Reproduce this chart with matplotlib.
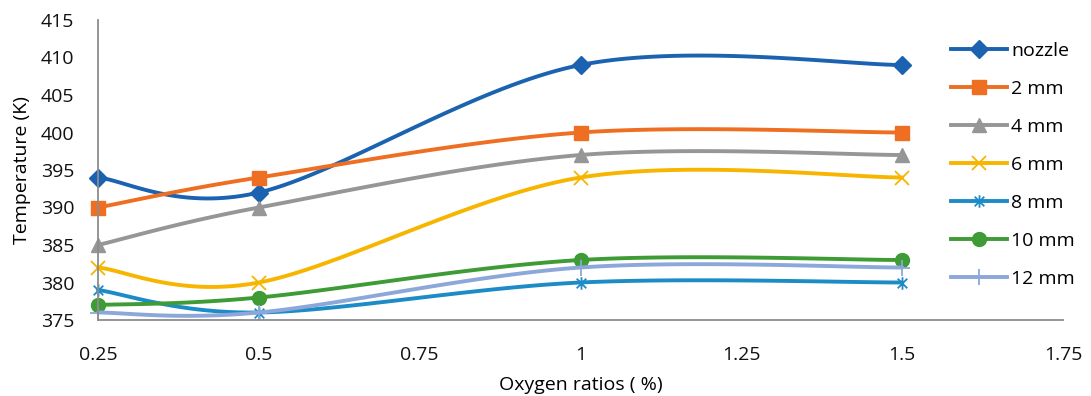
import numpy as np
import matplotlib.pyplot as plt
from matplotlib.path import Path

plt.rcParams['font.family'] = ['Open Sans', 'DejaVu Sans']

# Oxygen ratio (%) and temperature (K) per measuring position
oxygen = [0.25, 0.5, 1.0, 1.5]
series_names = ['nozzle', '2 mm', '4 mm', '6 mm', '8 mm', '10 mm', '12 mm']
t_nozzle = [394, 392, 409, 409]
t_2mm = [390, 394, 400, 400]
t_4mm = [385, 390, 397, 397]
t_6mm = [382, 380, 394, 394]
t_8mm = [379, 376, 380, 380]
t_10mm = [377, 378, 383, 383]
t_12mm = [376, 376, 382, 382]
x_ticks = [0.25, 0.5, 0.75, 1.0, 1.25, 1.5, 1.75]
x_ticklabels = ['0.25', '0.5', '0.75', '1', '1.25', '1.5', '1.75']
y_ticks = [375, 380, 385, 390, 395, 400, 405, 410, 415]

XMIN, XMAX, YMIN, YMAX = 0.25, 1.75, 375, 415
FS = 14

# asterisk marker: an x with a vertical stroke through it
star = Path([(-1, -1), (1, 1), (-1, 1), (1, -1), (0, -1.3), (0, 1.3)],
            [Path.MOVETO, Path.LINETO, Path.MOVETO, Path.LINETO, Path.MOVETO, Path.LINETO])

styles = [
    dict(color='#1B63B1', marker='D', ms=9),
    dict(color='#EE6E22', marker='s', ms=10),
    dict(color='#969696', marker='^', ms=10),
    dict(color='#F7B500', marker='x', ms=10, mew=1.3),
    dict(color='#1D8BC6', marker=star, ms=9, mew=1.3),
    dict(color='#3E9B35', marker='o', ms=10),
    dict(color='#8CA7DA', marker='+', ms=11, mew=1.3),
]


def smooth(xs, ys, sx, sy, n=40):
    """Bezier smoothing like office charts, done in screen-ish units."""
    p = np.column_stack([(np.array(xs) - XMIN) * sx, (np.array(ys) - YMIN) * sy])
    out = []
    for i in range(len(p) - 1):
        p0 = p[max(i - 1, 0)]
        p1, p2 = p[i], p[i + 1]
        p3 = p[min(i + 2, len(p) - 1)]
        c1 = p1 + (p2 - p0) / 6
        c2 = p2 - (p3 - p1) / 6
        t = np.linspace(0, 1, n)[:, None]
        seg = ((1 - t) ** 3) * p1 + 3 * ((1 - t) ** 2) * t * c1 + 3 * (1 - t) * t ** 2 * c2 + t ** 3 * p2
        out.append(seg if i == 0 else seg[1:])
    pts = np.vstack(out)
    return pts[:, 0] / sx + XMIN, pts[:, 1] / sy + YMIN


fig = plt.figure(figsize=(10.91, 3.96), dpi=100)
ax = fig.add_axes([98 / 1091, 76 / 396, 965 / 1091, 300 / 396])
ax.set_xlim(XMIN, XMAX)
ax.set_ylim(YMIN, YMAX)

sx = 965 / (XMAX - XMIN)
sy = 300 / (YMAX - YMIN)

all_series = [t_nozzle, t_2mm, t_4mm, t_6mm, t_8mm, t_10mm, t_12mm]
for name, ys, st in zip(series_names, all_series, styles):
    xs_s, ys_s = smooth(oxygen, ys, sx, sy)
    ax.plot(xs_s, ys_s, color=st['color'], lw=2.8, solid_capstyle='round', clip_on=False)
    ax.plot(oxygen, ys, linestyle='none', color=st['color'], marker=st['marker'],
            ms=st['ms'], mew=st.get('mew', 1), mfc=st['color'], mec=st['color'],
            clip_on=False)

# legend proxies with line and marker
proxies = [plt.Line2D([], [], color=st['color'], lw=2.8, marker=st['marker'], ms=st['ms'],
                      mew=st.get('mew', 1), mfc=st['color'], mec=st['color'])
           for st in styles]
fig.legend(proxies, series_names, loc='upper left', bbox_to_anchor=(943 / 1091, 1 - 34 / 396),
           frameon=False, fontsize=FS, handlelength=2.9, handletextpad=0.2,
           labelspacing=1.03, borderaxespad=0)

ax.set_xticks(x_ticks)
ax.set_xticklabels(x_ticklabels)
ax.set_yticks(y_ticks)
ax.tick_params(axis='both', length=0, labelsize=FS, colors='#111111')
ax.tick_params(axis='x', pad=19)
ax.tick_params(axis='y', pad=17)
for side in ['top', 'right']:
    ax.spines[side].set_visible(False)
for side in ['left', 'bottom']:
    ax.spines[side].set_color('#8C8C8C')
    ax.spines[side].set_linewidth(1.3)

ax.set_xlabel('Oxygen ratios ( %)', fontsize=FS, va='center')
ax.xaxis.set_label_coords(0.5, (320 - 385) / 300)
ax.set_ylabel('Temperature (K)', fontsize=FS, va='center')
ax.yaxis.set_label_coords((22 - 98) / 965, 0.5)

fig.savefig('out.png', dpi=100)
